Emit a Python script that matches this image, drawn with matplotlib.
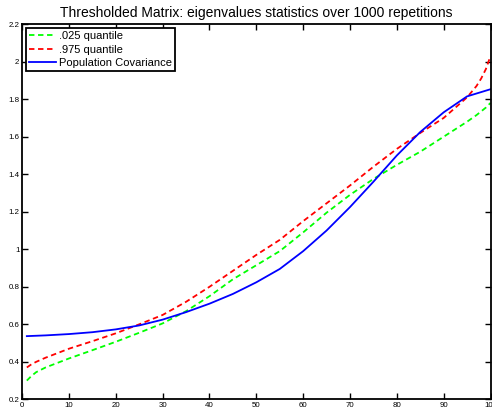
import numpy as np
import matplotlib
matplotlib.use("Agg")
import matplotlib.pyplot as plt

plt.rcParams['font.family'] = ['Liberation Sans', 'DejaVu Sans']

# valeurs
x_blue = [1, 5, 10, 15, 20, 25, 30, 35, 40, 45, 50, 55, 60, 65, 70, 75, 80, 85, 90, 95, 100]
pop_cov = [0.537, 0.541, 0.548, 0.558, 0.573, 0.594, 0.625, 0.665, 0.710, 0.762, 0.824,
           0.895, 0.990, 1.100, 1.225, 1.360, 1.500, 1.625, 1.730, 1.815, 1.853]

x_q = [1, 2, 3, 5, 10, 15, 20, 25, 30, 35, 40, 45, 50, 55, 60, 65, 70, 75, 80, 85, 90, 95,
       97, 98, 99, 100]
q975 = [0.370, 0.387, 0.400, 0.422, 0.470, 0.510, 0.552, 0.600, 0.650, 0.720, 0.800, 0.885,
        0.970, 1.050, 1.150, 1.245, 1.340, 1.440, 1.535, 1.620, 1.700, 1.810, 1.870, 1.910,
        1.960, 2.030]
q025 = [0.300, 0.325, 0.345, 0.370, 0.418, 0.462, 0.507, 0.555, 0.605, 0.670, 0.750, 0.840,
        0.915, 0.990, 1.090, 1.195, 1.290, 1.375, 1.450, 1.520, 1.600, 1.680, 1.715, 1.735,
        1.755, 1.780]

fig = plt.figure(figsize=(4.92, 4.16), dpi=100)
ax = fig.add_axes([0.045, 0.040, 0.952, 0.902])

ax.plot(x_q, q025, '--', color=(0, 1, 0), lw=1.3, dashes=(3, 2), label='.025 quantile')
ax.plot(x_q, q975, '--', color=(1, 0, 0), lw=1.3, dashes=(3, 2), label='.975 quantile')
ax.plot(x_blue, pop_cov, '-', color=(0, 0, 1), lw=1.3, label='Population Covariance')

ax.set_xlim(0, 100)
ax.set_ylim(0.2, 2.2)
ax.set_xticks(np.arange(0, 101, 10))
ax.set_yticks(np.arange(0.2, 2.21, 0.2))
ax.set_yticklabels(['0.2', '0.4', '0.6', '0.8', '1', '1.2', '1.4', '1.6', '1.8', '2', '2.2'])
ax.tick_params(direction='in', top=True, right=True, length=4, width=1, labelsize=5.7, pad=2)
for s in ax.spines.values():
    s.set_linewidth(1.3)

ax.set_title('Thresholded Matrix: eigenvalues statistics over 1000 repetitions', fontsize=10, pad=5)

leg = ax.legend(loc='upper left', fontsize=8, fancybox=False, framealpha=1,
                borderaxespad=0.35, handlelength=2.4, handletextpad=0.25, borderpad=0.3,
                labelspacing=0.3)
leg.get_frame().set_edgecolor('black')
leg.get_frame().set_linewidth(1.3)

fig.savefig('out.png', dpi=100)
